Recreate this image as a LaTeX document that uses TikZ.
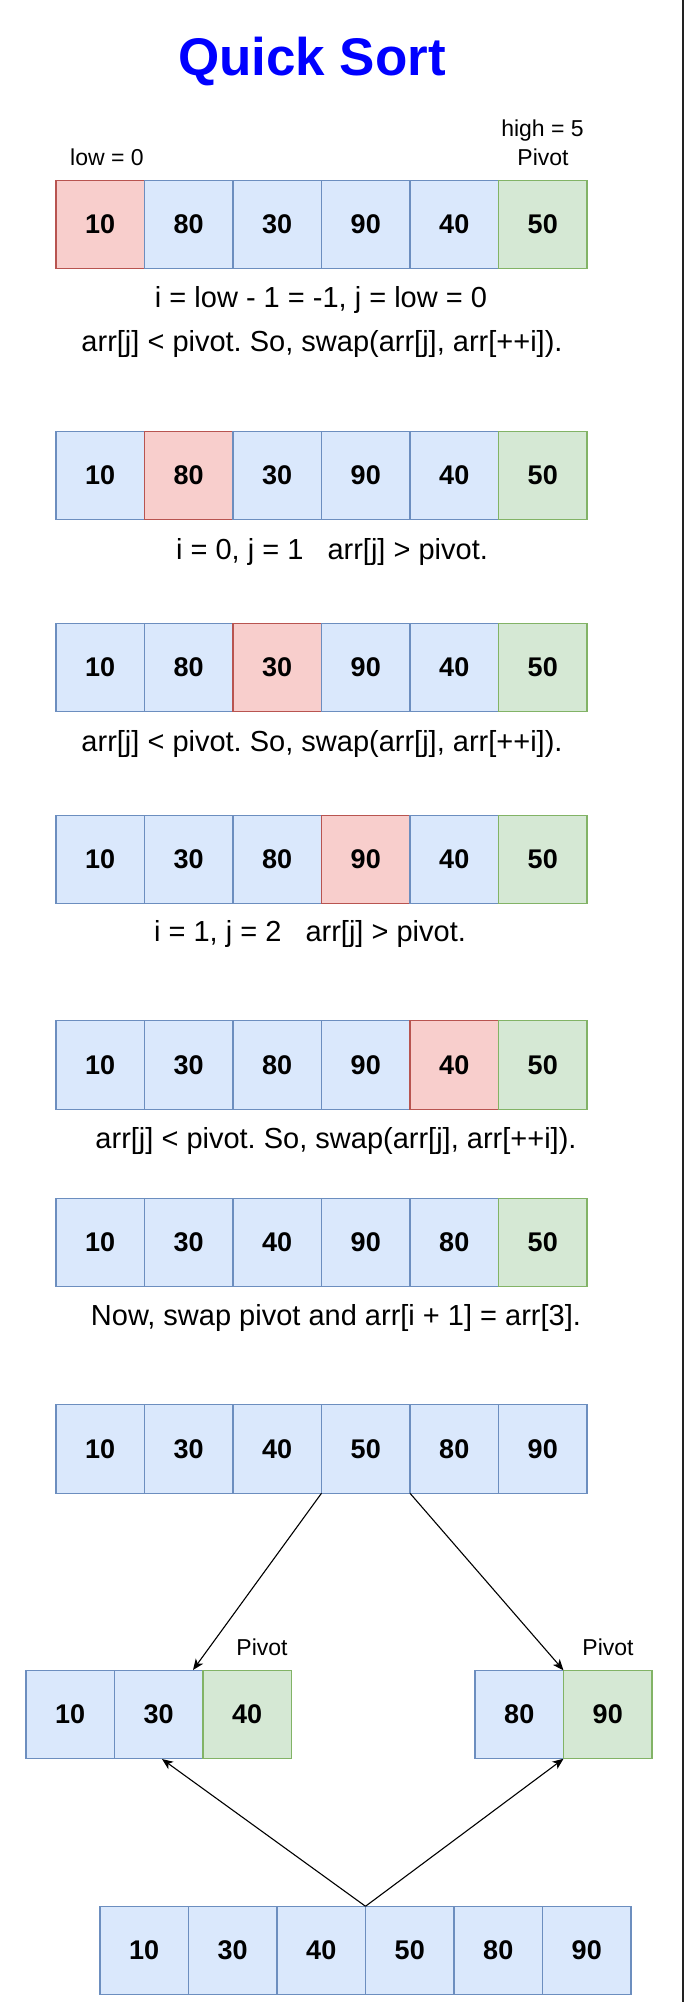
\documentclass[tikz,border=0pt]{standalone}
\usepackage{fontspec}
\setmainfont{Liberation Sans}
\usetikzlibrary{arrows.meta}
\frenchspacing
\definecolor{bfill}{HTML}{DAE8FC}
\definecolor{bline}{HTML}{6C8EBF}
\definecolor{rfill}{HTML}{F8CECC}
\definecolor{rline}{HTML}{B85450}
\definecolor{gfill}{HTML}{D5E8D4}
\definecolor{gline}{HTML}{82B366}
\definecolor{titleblue}{HTML}{0000FF}
\definecolor{edgegray}{HTML}{222222}
\begin{document}
\begin{tikzpicture}[x={(1pt,0)}, y={(0,-1pt)},
  cellbase/.style={rectangle, minimum width=88.5pt, minimum height=88.5pt, inner sep=0pt, outer sep=0pt, line width=1.2pt, font=\fontsize{27}{32}\selectfont\bfseries},
  cb/.style={cellbase, fill=bfill, draw=bline},
  cr/.style={cellbase, fill=rfill, draw=rline},
  cg/.style={cellbase, fill=gfill, draw=gline},
  txt/.style={font=\fontsize{29}{34}\selectfont, anchor=base, inner sep=0pt},
  lbl/.style={font=\fontsize{23}{28}\selectfont, anchor=base, inner sep=0pt},
  arr/.style={line width=1.1pt, -{Stealth[length=11pt, width=9pt, inset=3pt]}}
]
\useasboundingbox (0,0) rectangle (684,2002);
\fill[white] (0,0) rectangle (684,2002);
\fill[edgegray] (681.5,0) rectangle (684,2002);

% title
\node[font=\fontsize{53}{60}\selectfont\bfseries, text=titleblue, anchor=base, inner sep=0pt] (title) at (312,75) {Quick Sort};

% row 1
\node[lbl] (low) at (107,165) {low = 0};
\node[lbl] (high) at (542.5,136) {high = 5};
\node[lbl] (piv1) at (543,165) {Pivot};
\foreach \v/\s [count=\i] in {10/cr,80/cb,30/cb,90/cb,40/cb,50/cg}
  \node[\s] (r1c\i) at ({11.75+88.5*\i},224.5) {\v};
\node[txt] (t1a) at (321,307) {i = low - 1 = -1, j = low = 0};
\node[txt] (t1b) at (322,351) {arr[j] < pivot. So, swap(arr[j], arr[++i]).};

% row 2
\foreach \v/\s [count=\i] in {10/cb,80/cr,30/cb,90/cb,40/cb,50/cg}
  \node[\s] (r2c\i) at ({11.75+88.5*\i},475.5) {\v};
\node[txt] (t2) at (332,559) {i = 0, j = 1\ \ \ arr[j] > pivot.};

% row 3
\foreach \v/\s [count=\i] in {10/cb,80/cb,30/cr,90/cb,40/cb,50/cg}
  \node[\s] (r3c\i) at ({11.75+88.5*\i},667.5) {\v};
\node[txt] (t3) at (322,751) {arr[j] < pivot. So, swap(arr[j], arr[++i]).};

% row 4
\foreach \v/\s [count=\i] in {10/cb,30/cb,80/cb,90/cr,40/cb,50/cg}
  \node[\s] (r4c\i) at ({11.75+88.5*\i},859.5) {\v};
\node[txt] (t4) at (310,941) {i = 1, j = 2\ \ \ arr[j] > pivot.};

% row 5
\foreach \v/\s [count=\i] in {10/cb,30/cb,80/cb,90/cb,40/cr,50/cg}
  \node[\s] (r5c\i) at ({11.75+88.5*\i},1065) {\v};
\node[txt] (t5) at (336,1148) {arr[j] < pivot. So, swap(arr[j], arr[++i]).};

% row 6
\foreach \v/\s [count=\i] in {10/cb,30/cb,40/cb,90/cb,80/cb,50/cg}
  \node[\s] (r6c\i) at ({11.75+88.5*\i},1242.5) {\v};
\node[txt] (t6) at (336,1325) {Now, swap pivot and arr[i + 1] = arr[3].};

% row 7
\foreach \v [count=\i] in {10,30,40,50,80,90}
  \node[cb] (r7c\i) at ({11.75+88.5*\i},1449) {\v};

% sub-arrays
\node[lbl] (lpiv) at (262,1655) {Pivot};
\node[lbl] (rpiv) at (608,1655) {Pivot};
\node[cb] (ls1) at (70.25,1714.5) {10};
\node[cb] (ls2) at (158.75,1714.5) {30};
\node[cg] (ls3) at (247.25,1714.5) {40};
\node[cb] (rs1) at (519.25,1714.5) {80};
\node[cg] (rs2) at (607.75,1714.5) {90};

% bottom row
\foreach \v [count=\i] in {10,30,40,50,80,90}
  \node[cb] (b\i) at ({55.75+88.5*\i},1950.5) {\v};

% connectors
\coordinate (ltip) at (193,1670);
\coordinate (lbtip) at (162,1759);
\draw[arr] (r7c4.south west) -- (ltip);
\draw[arr] (r7c5.south west) -- (rs1.north east);
\draw[arr] (b4.north west) -- (lbtip);
\draw[arr] (b4.north west) -- (rs1.south east);
\end{tikzpicture}
\end{document}
